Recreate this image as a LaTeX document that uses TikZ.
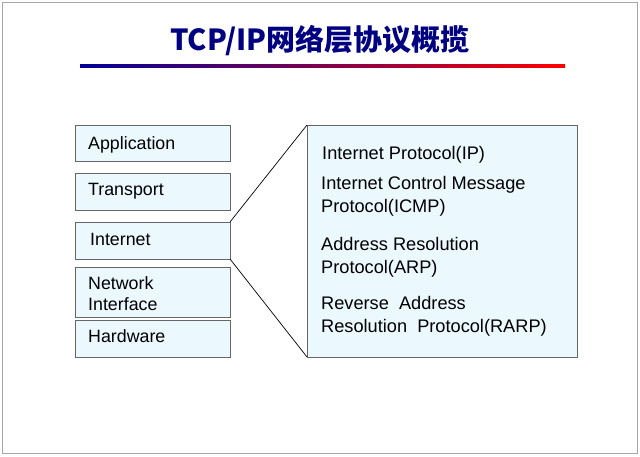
\documentclass[tikz,border=0pt]{standalone}
\usepackage{fontspec}
\setmainfont{Liberation Sans}
\newfontfamily\cjk{Noto Sans CJK SC}
\begin{document}
\begin{tikzpicture}[x=1pt,y=-1pt,
  layer/.style={draw=gray!80!black,fill=cyan!8,line width=0.6pt},
  lbl/.style={anchor=west,font=\fontsize{17.8}{21}\selectfont,align=left,inner sep=0pt},
  rl/.style={anchor=west,font=\fontsize{18.2}{23}\selectfont,align=left,inner sep=0pt}]
\useasboundingbox (0,0) rectangle (640,457);
\draw[gray!70,line width=0.8pt] (2,2) rectangle (637,453);
\node[font=\cjk\bfseries\fontsize{29}{32}\selectfont,text=blue!50!black] (title) at (320,41) {TCP/IP网络层协议概揽};
\shade[left color=blue!60!black,right color=red] (80,64.5) rectangle (565,67.5);
\draw[layer] (75,125) rectangle (230,161);
\draw[layer] (75,173) rectangle (230,210);
\draw[layer] (75,222) coordinate (it) rectangle (230,259) coordinate (ib);
\draw[layer] (75,267) rectangle (230,317);
\draw[layer] (75,320) rectangle (230,357);
\draw[layer] (307,125) coordinate (rt) rectangle (577,357);
\coordinate (it2) at (230,222);
\coordinate (rb) at (307,357);
\draw[line width=0.7pt] (it2) -- (rt);
\draw[line width=0.7pt] (ib) -- (rb);
\node[lbl] (a) at (88,145) {Application};
\node[lbl] (t) at (88,191) {Transport};
\node[lbl] (i) at (90,239) {Internet};
\node[lbl] (n) at (88,294) {Network\\Interface};
\node[lbl] (h) at (88,336) {Hardware};
\node[rl] (p1) at (322,155) {Internet Protocol(IP)};
\node[rl] (p2) at (321,196) {Internet Control Message\\Protocol(ICMP)};
\node[rl] (p3) at (321,257) {Address Resolution\\Protocol(ARP)};
\node[rl] (p4) at (321,316) {Reverse\ \ Address\\Resolution\ \ Protocol(RARP)};
\end{tikzpicture}
\end{document}
